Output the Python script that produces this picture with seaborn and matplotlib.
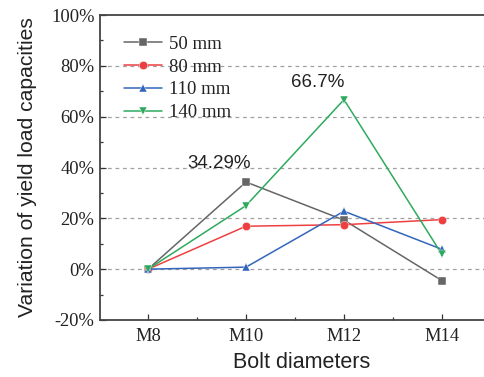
import numpy as np
import pandas as pd
import matplotlib
matplotlib.use("Agg")
import matplotlib.pyplot as plt
import seaborn as sns
from matplotlib.ticker import MultipleLocator, FuncFormatter

categories = ["M8", "M10", "M12", "M14"]
series_names = ["50 mm", "80 mm", "110 mm", "140 mm"]
v50 = [0.0, 34.29, 19.3, -4.5]
v80 = [0.0, 16.9, 17.5, 19.5]
v110 = [0.0, 0.8, 22.8, 7.8]
v140 = [0.0, 25.0, 66.7, 5.8]
colors = ["#666666", "#EE4040", "#3366BB", "#2EAA5E"]
markers = ["s", "o", "^", "v"]

rows = []
for name, vals in zip(series_names, [v50, v80, v110, v140]):
    for i, (c, v) in enumerate(zip(categories, vals)):
        rows.append({"pos": i, "cat": c, "val": v, "series": name})
df = pd.DataFrame(rows)

sns.set_style("ticks")
fig = plt.figure(figsize=(4.85, 3.77), dpi=100)
ax = fig.add_axes([100/485, 57/377, 404/485, 305/377])

sns.lineplot(data=df, x="pos", y="val", hue="series", style="series",
             palette=dict(zip(series_names, colors)),
             markers=dict(zip(series_names, markers)),
             dashes=False, markersize=6, markeredgewidth=0.3,
             linewidth=1.1, ax=ax, legend=True)

ax.set_xlim(-0.49, 3.633)
ax.set_ylim(-20, 100)
ax.set_xticks(range(len(categories)))
ax.set_xticklabels(categories)
ax.xaxis.set_minor_locator(MultipleLocator(0.5))
ax.yaxis.set_major_locator(MultipleLocator(20))
ax.yaxis.set_minor_locator(MultipleLocator(10))
ax.yaxis.set_major_formatter(FuncFormatter(lambda v, p: f"{int(round(v))}%"))

for g in [0, 20, 40, 60, 80]:
    ax.axhline(g, color="#A0A0A0", linestyle=(0, (3, 3)), linewidth=0.9, zorder=0)

ax.tick_params(axis="both", which="both", direction="in", color="#333333")
ax.tick_params(axis="both", which="major", length=4, width=0.9)
ax.tick_params(axis="both", which="minor", length=2.5, width=0.9)
ax.tick_params(axis="x", pad=6)
ax.tick_params(axis="y", pad=4)
for lab in ax.get_xticklabels() + ax.get_yticklabels():
    lab.set_fontfamily("Liberation Serif")
    lab.set_fontsize(13.3)
    lab.set_color("#222222")

for s in ["left", "bottom", "top", "right"]:
    ax.spines[s].set_color("#444444")
    ax.spines[s].set_linewidth(1.3)

ax.set_xlabel("Bolt diameters", fontfamily="Liberation Sans", fontsize=15.5, color="#222222", labelpad=5)
ax.set_ylabel("Variation of yield load capacities", fontfamily="Liberation Sans", fontsize=15.2, color="#222222")
ax.yaxis.set_label_coords(-63/404, 0.5)

ax.text(1 - 0.27, 41.5, "34.29%", ha="center", va="center", fontfamily="Liberation Sans", fontsize=13.5, color="#222222")
ax.text(2 - 0.27, 73.5, "66.7%", ha="center", va="center", fontfamily="Liberation Sans", fontsize=13.5, color="#222222")

leg = ax.legend(loc="upper left", bbox_to_anchor=(0.027, 0.975), frameon=False,
                prop={"family": "Liberation Serif", "size": 13.5},
                handlelength=2.0, handletextpad=0.4, labelspacing=0.3, borderpad=0.2)
for t in leg.get_texts():
    t.set_color("#222222")

fig.savefig("out.png", dpi=100)
